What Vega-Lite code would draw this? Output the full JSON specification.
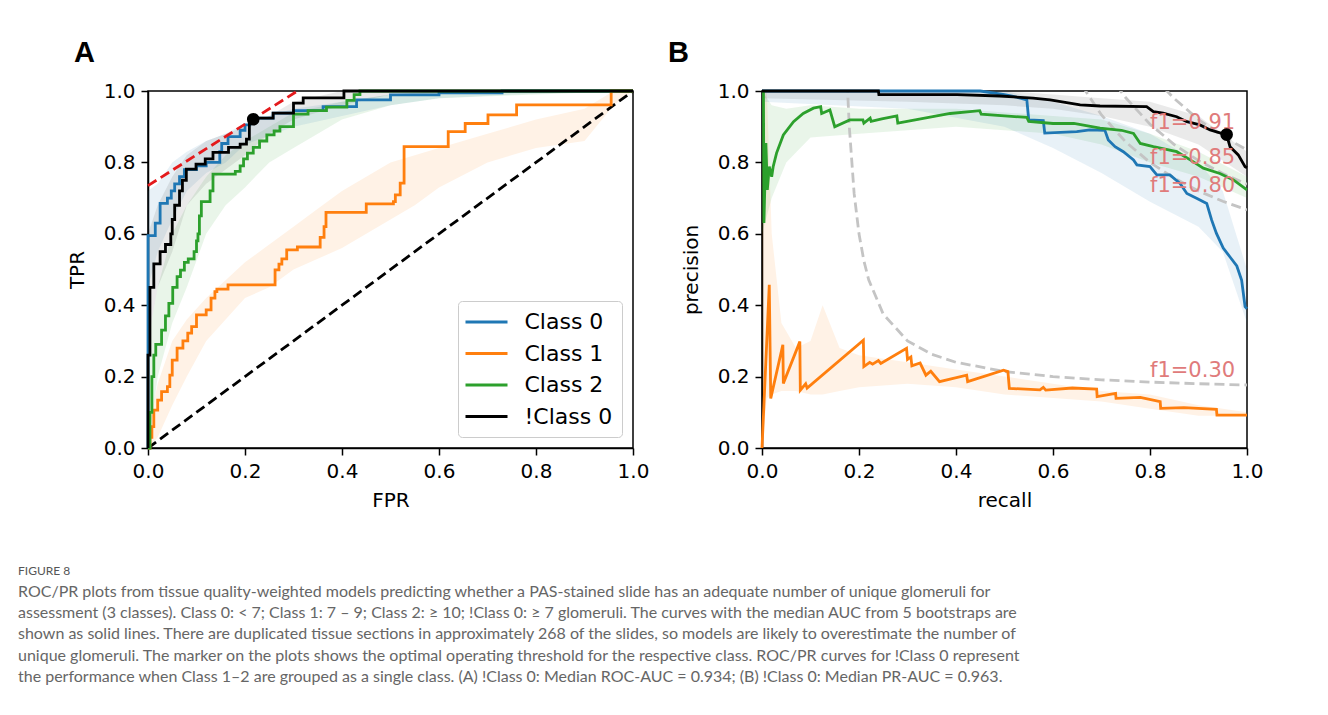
{
  "$schema": "https://vega.github.io/schema/vega-lite/v6.json",
  "background": "white",
  "padding": {"left": 18, "top": 38, "right": 60, "bottom": 20},
  "title": {
    "text": "FIGURE 8",
    "subtitle": [
      "ROC/PR plots from tissue quality-weighted models predicting whether a PAS-stained slide has an adequate number of unique glomeruli for",
      "assessment (3 classes). Class 0: < 7; Class 1: 7 – 9; Class 2: ≥ 10; !Class 0: ≥ 7 glomeruli. The curves with the median AUC from 5 bootstraps are",
      "shown as solid lines. There are duplicated tissue sections in approximately 268 of the slides, so models are likely to overestimate the number of",
      "unique glomeruli. The marker on the plots shows the optimal operating threshold for the respective class. ROC/PR curves for !Class 0 represent",
      "the performance when Class 1–2 are grouped as a single class. (A) !Class 0: Median ROC-AUC = 0.934; (B) !Class 0: Median PR-AUC = 0.963."
    ],
    "orient": "bottom",
    "anchor": "start",
    "frame": "group",
    "dx": -130,
    "offset": 55,
    "font": "Lato",
    "fontSize": 12,
    "fontWeight": "normal",
    "color": "#555555",
    "subtitleFont": "Lato",
    "subtitleFontSize": 16,
    "subtitleColor": "#666666",
    "subtitleLineHeight": 21.3,
    "subtitlePadding": 6
  },
  "datasets": {
    "rocLines": [
      {"cls": "Class 0", "fpr": 0, "tpr": 0},
      {"cls": "Class 0", "fpr": 0, "tpr": 0.595},
      {"cls": "Class 0", "fpr": 0.015, "tpr": 0.63},
      {"cls": "Class 0", "fpr": 0.025, "tpr": 0.685},
      {"cls": "Class 0", "fpr": 0.04, "tpr": 0.7},
      {"cls": "Class 0", "fpr": 0.048, "tpr": 0.72},
      {"cls": "Class 0", "fpr": 0.055, "tpr": 0.74},
      {"cls": "Class 0", "fpr": 0.065, "tpr": 0.76},
      {"cls": "Class 0", "fpr": 0.075, "tpr": 0.78},
      {"cls": "Class 0", "fpr": 0.1, "tpr": 0.79},
      {"cls": "Class 0", "fpr": 0.12, "tpr": 0.8},
      {"cls": "Class 0", "fpr": 0.148, "tpr": 0.83},
      {"cls": "Class 0", "fpr": 0.152, "tpr": 0.853},
      {"cls": "Class 0", "fpr": 0.165, "tpr": 0.872},
      {"cls": "Class 0", "fpr": 0.19, "tpr": 0.89},
      {"cls": "Class 0", "fpr": 0.2, "tpr": 0.905},
      {"cls": "Class 0", "fpr": 0.21, "tpr": 0.924},
      {"cls": "Class 0", "fpr": 0.258, "tpr": 0.938},
      {"cls": "Class 0", "fpr": 0.3, "tpr": 0.945},
      {"cls": "Class 0", "fpr": 0.361, "tpr": 0.956},
      {"cls": "Class 0", "fpr": 0.43, "tpr": 0.975},
      {"cls": "Class 0", "fpr": 0.5, "tpr": 0.989},
      {"cls": "Class 0", "fpr": 0.6, "tpr": 0.995},
      {"cls": "Class 0", "fpr": 0.73, "tpr": 1.0},
      {"cls": "Class 0", "fpr": 1.0, "tpr": 1.0},
      {"cls": "Class 1", "fpr": 0, "tpr": 0},
      {"cls": "Class 1", "fpr": 0.004, "tpr": 0.03},
      {"cls": "Class 1", "fpr": 0.008, "tpr": 0.06},
      {"cls": "Class 1", "fpr": 0.012, "tpr": 0.106},
      {"cls": "Class 1", "fpr": 0.02, "tpr": 0.134},
      {"cls": "Class 1", "fpr": 0.028, "tpr": 0.158},
      {"cls": "Class 1", "fpr": 0.04, "tpr": 0.172},
      {"cls": "Class 1", "fpr": 0.045, "tpr": 0.204},
      {"cls": "Class 1", "fpr": 0.05, "tpr": 0.246},
      {"cls": "Class 1", "fpr": 0.06, "tpr": 0.28},
      {"cls": "Class 1", "fpr": 0.072, "tpr": 0.3},
      {"cls": "Class 1", "fpr": 0.082, "tpr": 0.322},
      {"cls": "Class 1", "fpr": 0.09, "tpr": 0.34},
      {"cls": "Class 1", "fpr": 0.1, "tpr": 0.373},
      {"cls": "Class 1", "fpr": 0.12, "tpr": 0.387},
      {"cls": "Class 1", "fpr": 0.13, "tpr": 0.42},
      {"cls": "Class 1", "fpr": 0.138, "tpr": 0.438},
      {"cls": "Class 1", "fpr": 0.142, "tpr": 0.445},
      {"cls": "Class 1", "fpr": 0.165, "tpr": 0.457},
      {"cls": "Class 1", "fpr": 0.262, "tpr": 0.499},
      {"cls": "Class 1", "fpr": 0.27, "tpr": 0.515},
      {"cls": "Class 1", "fpr": 0.276, "tpr": 0.53},
      {"cls": "Class 1", "fpr": 0.286, "tpr": 0.555},
      {"cls": "Class 1", "fpr": 0.308, "tpr": 0.563},
      {"cls": "Class 1", "fpr": 0.355, "tpr": 0.59},
      {"cls": "Class 1", "fpr": 0.363, "tpr": 0.62},
      {"cls": "Class 1", "fpr": 0.367, "tpr": 0.66},
      {"cls": "Class 1", "fpr": 0.45, "tpr": 0.684},
      {"cls": "Class 1", "fpr": 0.506, "tpr": 0.69},
      {"cls": "Class 1", "fpr": 0.51, "tpr": 0.709},
      {"cls": "Class 1", "fpr": 0.52, "tpr": 0.742},
      {"cls": "Class 1", "fpr": 0.528, "tpr": 0.844},
      {"cls": "Class 1", "fpr": 0.619, "tpr": 0.886},
      {"cls": "Class 1", "fpr": 0.654, "tpr": 0.909},
      {"cls": "Class 1", "fpr": 0.701, "tpr": 0.933},
      {"cls": "Class 1", "fpr": 0.76, "tpr": 0.961},
      {"cls": "Class 1", "fpr": 0.955, "tpr": 1.0},
      {"cls": "Class 1", "fpr": 1.0, "tpr": 1.0},
      {"cls": "Class 2", "fpr": 0, "tpr": 0},
      {"cls": "Class 2", "fpr": 0.004, "tpr": 0.1},
      {"cls": "Class 2", "fpr": 0.008, "tpr": 0.2},
      {"cls": "Class 2", "fpr": 0.012, "tpr": 0.26},
      {"cls": "Class 2", "fpr": 0.016, "tpr": 0.29},
      {"cls": "Class 2", "fpr": 0.028, "tpr": 0.33},
      {"cls": "Class 2", "fpr": 0.036, "tpr": 0.37},
      {"cls": "Class 2", "fpr": 0.043, "tpr": 0.405},
      {"cls": "Class 2", "fpr": 0.051, "tpr": 0.45},
      {"cls": "Class 2", "fpr": 0.06, "tpr": 0.48},
      {"cls": "Class 2", "fpr": 0.067, "tpr": 0.498},
      {"cls": "Class 2", "fpr": 0.075, "tpr": 0.52},
      {"cls": "Class 2", "fpr": 0.083, "tpr": 0.53},
      {"cls": "Class 2", "fpr": 0.095, "tpr": 0.55},
      {"cls": "Class 2", "fpr": 0.1, "tpr": 0.58},
      {"cls": "Class 2", "fpr": 0.103, "tpr": 0.6},
      {"cls": "Class 2", "fpr": 0.106, "tpr": 0.65},
      {"cls": "Class 2", "fpr": 0.11, "tpr": 0.69},
      {"cls": "Class 2", "fpr": 0.128, "tpr": 0.72},
      {"cls": "Class 2", "fpr": 0.134, "tpr": 0.767},
      {"cls": "Class 2", "fpr": 0.18, "tpr": 0.775},
      {"cls": "Class 2", "fpr": 0.19, "tpr": 0.79},
      {"cls": "Class 2", "fpr": 0.197, "tpr": 0.81},
      {"cls": "Class 2", "fpr": 0.205, "tpr": 0.826},
      {"cls": "Class 2", "fpr": 0.217, "tpr": 0.842},
      {"cls": "Class 2", "fpr": 0.23, "tpr": 0.86},
      {"cls": "Class 2", "fpr": 0.245, "tpr": 0.877},
      {"cls": "Class 2", "fpr": 0.26, "tpr": 0.888},
      {"cls": "Class 2", "fpr": 0.272, "tpr": 0.9},
      {"cls": "Class 2", "fpr": 0.3, "tpr": 0.935},
      {"cls": "Class 2", "fpr": 0.33, "tpr": 0.945},
      {"cls": "Class 2", "fpr": 0.368, "tpr": 0.955},
      {"cls": "Class 2", "fpr": 0.41, "tpr": 0.974},
      {"cls": "Class 2", "fpr": 0.425, "tpr": 0.99},
      {"cls": "Class 2", "fpr": 0.437, "tpr": 1.0},
      {"cls": "Class 2", "fpr": 1.0, "tpr": 1.0},
      {"cls": "!Class 0", "fpr": 0, "tpr": 0},
      {"cls": "!Class 0", "fpr": 0, "tpr": 0.26},
      {"cls": "!Class 0", "fpr": 0.004, "tpr": 0.45},
      {"cls": "!Class 0", "fpr": 0.012, "tpr": 0.516},
      {"cls": "!Class 0", "fpr": 0.025, "tpr": 0.55},
      {"cls": "!Class 0", "fpr": 0.036, "tpr": 0.57},
      {"cls": "!Class 0", "fpr": 0.047, "tpr": 0.6},
      {"cls": "!Class 0", "fpr": 0.05, "tpr": 0.64},
      {"cls": "!Class 0", "fpr": 0.055, "tpr": 0.68},
      {"cls": "!Class 0", "fpr": 0.065, "tpr": 0.72},
      {"cls": "!Class 0", "fpr": 0.071, "tpr": 0.75},
      {"cls": "!Class 0", "fpr": 0.079, "tpr": 0.781},
      {"cls": "!Class 0", "fpr": 0.099, "tpr": 0.795},
      {"cls": "!Class 0", "fpr": 0.118, "tpr": 0.81},
      {"cls": "!Class 0", "fpr": 0.134, "tpr": 0.828},
      {"cls": "!Class 0", "fpr": 0.166, "tpr": 0.842},
      {"cls": "!Class 0", "fpr": 0.19, "tpr": 0.851},
      {"cls": "!Class 0", "fpr": 0.203, "tpr": 0.865},
      {"cls": "!Class 0", "fpr": 0.209, "tpr": 0.924},
      {"cls": "!Class 0", "fpr": 0.258, "tpr": 0.938},
      {"cls": "!Class 0", "fpr": 0.3, "tpr": 0.966},
      {"cls": "!Class 0", "fpr": 0.32, "tpr": 0.981},
      {"cls": "!Class 0", "fpr": 0.404, "tpr": 1.0},
      {"cls": "!Class 0", "fpr": 1.0, "tpr": 1.0}
    ],
    "rocBands": [
      {"cls": "Class 0", "fpr": 0, "lo": 0.45, "hi": 0.72},
      {"cls": "Class 0", "fpr": 0.02, "lo": 0.55, "hi": 0.74},
      {"cls": "Class 0", "fpr": 0.05, "lo": 0.64, "hi": 0.8},
      {"cls": "Class 0", "fpr": 0.08, "lo": 0.72, "hi": 0.83},
      {"cls": "Class 0", "fpr": 0.12, "lo": 0.77, "hi": 0.86},
      {"cls": "Class 0", "fpr": 0.16, "lo": 0.8, "hi": 0.88},
      {"cls": "Class 0", "fpr": 0.2, "lo": 0.85, "hi": 0.91},
      {"cls": "Class 0", "fpr": 0.3, "lo": 0.9, "hi": 0.95},
      {"cls": "Class 0", "fpr": 0.4, "lo": 0.93, "hi": 0.97},
      {"cls": "Class 0", "fpr": 0.5, "lo": 0.96, "hi": 0.99},
      {"cls": "Class 0", "fpr": 0.6, "lo": 0.98, "hi": 1.0},
      {"cls": "Class 0", "fpr": 0.75, "lo": 0.99, "hi": 1.0},
      {"cls": "Class 0", "fpr": 1.0, "lo": 1.0, "hi": 1.0},
      {"cls": "Class 1", "fpr": 0, "lo": 0, "hi": 0.05},
      {"cls": "Class 1", "fpr": 0.02, "lo": 0.03, "hi": 0.18},
      {"cls": "Class 1", "fpr": 0.05, "lo": 0.12, "hi": 0.3},
      {"cls": "Class 1", "fpr": 0.08, "lo": 0.2, "hi": 0.36},
      {"cls": "Class 1", "fpr": 0.12, "lo": 0.3, "hi": 0.42},
      {"cls": "Class 1", "fpr": 0.16, "lo": 0.36, "hi": 0.47},
      {"cls": "Class 1", "fpr": 0.2, "lo": 0.42, "hi": 0.52},
      {"cls": "Class 1", "fpr": 0.25, "lo": 0.45, "hi": 0.57},
      {"cls": "Class 1", "fpr": 0.3, "lo": 0.5, "hi": 0.62},
      {"cls": "Class 1", "fpr": 0.35, "lo": 0.53, "hi": 0.67},
      {"cls": "Class 1", "fpr": 0.4, "lo": 0.56, "hi": 0.72},
      {"cls": "Class 1", "fpr": 0.45, "lo": 0.6, "hi": 0.76},
      {"cls": "Class 1", "fpr": 0.5, "lo": 0.64, "hi": 0.8},
      {"cls": "Class 1", "fpr": 0.55, "lo": 0.68, "hi": 0.82},
      {"cls": "Class 1", "fpr": 0.6, "lo": 0.73, "hi": 0.84},
      {"cls": "Class 1", "fpr": 0.7, "lo": 0.8, "hi": 0.88},
      {"cls": "Class 1", "fpr": 0.8, "lo": 0.84, "hi": 0.92},
      {"cls": "Class 1", "fpr": 0.9, "lo": 0.86, "hi": 0.95},
      {"cls": "Class 1", "fpr": 0.96, "lo": 0.96, "hi": 1.0},
      {"cls": "Class 1", "fpr": 1.0, "lo": 1.0, "hi": 1.0},
      {"cls": "Class 2", "fpr": 0, "lo": 0, "hi": 0.3},
      {"cls": "Class 2", "fpr": 0.02, "lo": 0.2, "hi": 0.45},
      {"cls": "Class 2", "fpr": 0.05, "lo": 0.35, "hi": 0.6},
      {"cls": "Class 2", "fpr": 0.08, "lo": 0.45, "hi": 0.68},
      {"cls": "Class 2", "fpr": 0.12, "lo": 0.6, "hi": 0.76},
      {"cls": "Class 2", "fpr": 0.16, "lo": 0.68, "hi": 0.82},
      {"cls": "Class 2", "fpr": 0.2, "lo": 0.73, "hi": 0.86},
      {"cls": "Class 2", "fpr": 0.25, "lo": 0.8, "hi": 0.9},
      {"cls": "Class 2", "fpr": 0.3, "lo": 0.84, "hi": 0.94},
      {"cls": "Class 2", "fpr": 0.4, "lo": 0.92, "hi": 0.97},
      {"cls": "Class 2", "fpr": 0.5, "lo": 0.96, "hi": 0.99},
      {"cls": "Class 2", "fpr": 0.6, "lo": 0.98, "hi": 1.0},
      {"cls": "Class 2", "fpr": 1.0, "lo": 1.0, "hi": 1.0},
      {"cls": "!Class 0", "fpr": 0, "lo": 0.3, "hi": 0.6},
      {"cls": "!Class 0", "fpr": 0.02, "lo": 0.45, "hi": 0.68},
      {"cls": "!Class 0", "fpr": 0.05, "lo": 0.55, "hi": 0.76},
      {"cls": "!Class 0", "fpr": 0.08, "lo": 0.68, "hi": 0.82},
      {"cls": "!Class 0", "fpr": 0.12, "lo": 0.74, "hi": 0.86},
      {"cls": "!Class 0", "fpr": 0.2, "lo": 0.82, "hi": 0.9},
      {"cls": "!Class 0", "fpr": 0.25, "lo": 0.88, "hi": 0.93},
      {"cls": "!Class 0", "fpr": 0.3, "lo": 0.92, "hi": 0.97},
      {"cls": "!Class 0", "fpr": 0.4, "lo": 0.96, "hi": 1.0},
      {"cls": "!Class 0", "fpr": 0.5, "lo": 0.99, "hi": 1.0},
      {"cls": "!Class 0", "fpr": 1.0, "lo": 1.0, "hi": 1.0}
    ],
    "rocDiag": [
      {"fpr": 0, "tpr": 0},
      {"fpr": 1, "tpr": 1}
    ],
    "rocTangent": [
      {"fpr": 0, "tpr": 0.735},
      {"fpr": 0.308, "tpr": 1.0}
    ],
    "rocOptimal": [
      {"fpr": 0.217, "tpr": 0.921}
    ],
    "prLines": [
      {"cls": "Class 0", "recall": 0, "precision": 1.0},
      {"cls": "Class 0", "recall": 0.45, "precision": 1.0},
      {"cls": "Class 0", "recall": 0.5, "precision": 0.99},
      {"cls": "Class 0", "recall": 0.518, "precision": 0.985},
      {"cls": "Class 0", "recall": 0.546, "precision": 0.975},
      {"cls": "Class 0", "recall": 0.55, "precision": 0.919},
      {"cls": "Class 0", "recall": 0.58, "precision": 0.917},
      {"cls": "Class 0", "recall": 0.583, "precision": 0.882},
      {"cls": "Class 0", "recall": 0.649, "precision": 0.886},
      {"cls": "Class 0", "recall": 0.676, "precision": 0.891},
      {"cls": "Class 0", "recall": 0.707, "precision": 0.89},
      {"cls": "Class 0", "recall": 0.714, "precision": 0.863},
      {"cls": "Class 0", "recall": 0.728, "precision": 0.844},
      {"cls": "Class 0", "recall": 0.745, "precision": 0.83},
      {"cls": "Class 0", "recall": 0.766, "precision": 0.807},
      {"cls": "Class 0", "recall": 0.773, "precision": 0.793},
      {"cls": "Class 0", "recall": 0.8, "precision": 0.788},
      {"cls": "Class 0", "recall": 0.814, "precision": 0.765},
      {"cls": "Class 0", "recall": 0.841, "precision": 0.765},
      {"cls": "Class 0", "recall": 0.862, "precision": 0.741},
      {"cls": "Class 0", "recall": 0.876, "precision": 0.713},
      {"cls": "Class 0", "recall": 0.897, "precision": 0.699},
      {"cls": "Class 0", "recall": 0.917, "precision": 0.685},
      {"cls": "Class 0", "recall": 0.927, "precision": 0.639},
      {"cls": "Class 0", "recall": 0.937, "precision": 0.601},
      {"cls": "Class 0", "recall": 0.951, "precision": 0.56},
      {"cls": "Class 0", "recall": 0.965, "precision": 0.535},
      {"cls": "Class 0", "recall": 0.979, "precision": 0.51},
      {"cls": "Class 0", "recall": 0.989, "precision": 0.47},
      {"cls": "Class 0", "recall": 0.996, "precision": 0.396},
      {"cls": "Class 0", "recall": 1.0, "precision": 0.39},
      {"cls": "Class 1", "recall": 0, "precision": 0},
      {"cls": "Class 1", "recall": 0.015, "precision": 0.457},
      {"cls": "Class 1", "recall": 0.018, "precision": 0.139},
      {"cls": "Class 1", "recall": 0.043, "precision": 0.289},
      {"cls": "Class 1", "recall": 0.044, "precision": 0.181},
      {"cls": "Class 1", "recall": 0.078, "precision": 0.298},
      {"cls": "Class 1", "recall": 0.079, "precision": 0.162},
      {"cls": "Class 1", "recall": 0.09, "precision": 0.18},
      {"cls": "Class 1", "recall": 0.093, "precision": 0.168},
      {"cls": "Class 1", "recall": 0.209, "precision": 0.302},
      {"cls": "Class 1", "recall": 0.21, "precision": 0.228},
      {"cls": "Class 1", "recall": 0.222, "precision": 0.24},
      {"cls": "Class 1", "recall": 0.228, "precision": 0.235},
      {"cls": "Class 1", "recall": 0.24, "precision": 0.245},
      {"cls": "Class 1", "recall": 0.245, "precision": 0.237},
      {"cls": "Class 1", "recall": 0.298, "precision": 0.279},
      {"cls": "Class 1", "recall": 0.3, "precision": 0.248},
      {"cls": "Class 1", "recall": 0.307, "precision": 0.255},
      {"cls": "Class 1", "recall": 0.309, "precision": 0.23},
      {"cls": "Class 1", "recall": 0.326, "precision": 0.238},
      {"cls": "Class 1", "recall": 0.338, "precision": 0.204},
      {"cls": "Class 1", "recall": 0.348, "precision": 0.215},
      {"cls": "Class 1", "recall": 0.366, "precision": 0.186},
      {"cls": "Class 1", "recall": 0.422, "precision": 0.204},
      {"cls": "Class 1", "recall": 0.424, "precision": 0.186},
      {"cls": "Class 1", "recall": 0.498, "precision": 0.218},
      {"cls": "Class 1", "recall": 0.507, "precision": 0.214},
      {"cls": "Class 1", "recall": 0.51, "precision": 0.167},
      {"cls": "Class 1", "recall": 0.573, "precision": 0.163},
      {"cls": "Class 1", "recall": 0.58, "precision": 0.17},
      {"cls": "Class 1", "recall": 0.585, "precision": 0.162},
      {"cls": "Class 1", "recall": 0.64, "precision": 0.168},
      {"cls": "Class 1", "recall": 0.69, "precision": 0.165},
      {"cls": "Class 1", "recall": 0.691, "precision": 0.144},
      {"cls": "Class 1", "recall": 0.729, "precision": 0.153},
      {"cls": "Class 1", "recall": 0.73, "precision": 0.139},
      {"cls": "Class 1", "recall": 0.78, "precision": 0.142},
      {"cls": "Class 1", "recall": 0.821, "precision": 0.13},
      {"cls": "Class 1", "recall": 0.822, "precision": 0.111},
      {"cls": "Class 1", "recall": 0.87, "precision": 0.113},
      {"cls": "Class 1", "recall": 0.937, "precision": 0.108},
      {"cls": "Class 1", "recall": 0.938, "precision": 0.092},
      {"cls": "Class 1", "recall": 1.0, "precision": 0.092},
      {"cls": "Class 2", "recall": 0.003, "precision": 1.0},
      {"cls": "Class 2", "recall": 0.004, "precision": 0.63},
      {"cls": "Class 2", "recall": 0.008, "precision": 0.854},
      {"cls": "Class 2", "recall": 0.011, "precision": 0.723},
      {"cls": "Class 2", "recall": 0.015, "precision": 0.788},
      {"cls": "Class 2", "recall": 0.02, "precision": 0.76},
      {"cls": "Class 2", "recall": 0.023, "precision": 0.788},
      {"cls": "Class 2", "recall": 0.03, "precision": 0.826},
      {"cls": "Class 2", "recall": 0.044, "precision": 0.877},
      {"cls": "Class 2", "recall": 0.065, "precision": 0.914},
      {"cls": "Class 2", "recall": 0.085, "precision": 0.937},
      {"cls": "Class 2", "recall": 0.106, "precision": 0.952},
      {"cls": "Class 2", "recall": 0.121, "precision": 0.956},
      {"cls": "Class 2", "recall": 0.123, "precision": 0.937},
      {"cls": "Class 2", "recall": 0.14, "precision": 0.947},
      {"cls": "Class 2", "recall": 0.15, "precision": 0.9},
      {"cls": "Class 2", "recall": 0.181, "precision": 0.919},
      {"cls": "Class 2", "recall": 0.208, "precision": 0.919},
      {"cls": "Class 2", "recall": 0.21, "precision": 0.91},
      {"cls": "Class 2", "recall": 0.223, "precision": 0.924},
      {"cls": "Class 2", "recall": 0.225, "precision": 0.915},
      {"cls": "Class 2", "recall": 0.247, "precision": 0.922},
      {"cls": "Class 2", "recall": 0.278, "precision": 0.93},
      {"cls": "Class 2", "recall": 0.28, "precision": 0.91},
      {"cls": "Class 2", "recall": 0.388, "precision": 0.937},
      {"cls": "Class 2", "recall": 0.449, "precision": 0.945},
      {"cls": "Class 2", "recall": 0.452, "precision": 0.935},
      {"cls": "Class 2", "recall": 0.546, "precision": 0.926},
      {"cls": "Class 2", "recall": 0.55, "precision": 0.915},
      {"cls": "Class 2", "recall": 0.6, "precision": 0.909},
      {"cls": "Class 2", "recall": 0.643, "precision": 0.909},
      {"cls": "Class 2", "recall": 0.697, "precision": 0.896},
      {"cls": "Class 2", "recall": 0.741, "precision": 0.89},
      {"cls": "Class 2", "recall": 0.766, "precision": 0.881},
      {"cls": "Class 2", "recall": 0.78, "precision": 0.853},
      {"cls": "Class 2", "recall": 0.807, "precision": 0.844},
      {"cls": "Class 2", "recall": 0.855, "precision": 0.83},
      {"cls": "Class 2", "recall": 0.883, "precision": 0.807},
      {"cls": "Class 2", "recall": 0.91, "precision": 0.784},
      {"cls": "Class 2", "recall": 0.944, "precision": 0.769},
      {"cls": "Class 2", "recall": 0.972, "precision": 0.751},
      {"cls": "Class 2", "recall": 1.0, "precision": 0.723},
      {"cls": "!Class 0", "recall": 0, "precision": 1.0},
      {"cls": "!Class 0", "recall": 0.24, "precision": 1.0},
      {"cls": "!Class 0", "recall": 0.241, "precision": 0.99},
      {"cls": "!Class 0", "recall": 0.402, "precision": 0.99},
      {"cls": "!Class 0", "recall": 0.49, "precision": 0.986},
      {"cls": "!Class 0", "recall": 0.559, "precision": 0.98},
      {"cls": "!Class 0", "recall": 0.594, "precision": 0.975},
      {"cls": "!Class 0", "recall": 0.656, "precision": 0.961},
      {"cls": "!Class 0", "recall": 0.697, "precision": 0.958},
      {"cls": "!Class 0", "recall": 0.793, "precision": 0.956},
      {"cls": "!Class 0", "recall": 0.807, "precision": 0.942},
      {"cls": "!Class 0", "recall": 0.827, "precision": 0.938},
      {"cls": "!Class 0", "recall": 0.855, "precision": 0.928},
      {"cls": "!Class 0", "recall": 0.876, "precision": 0.914},
      {"cls": "!Class 0", "recall": 0.903, "precision": 0.905},
      {"cls": "!Class 0", "recall": 0.924, "precision": 0.891},
      {"cls": "!Class 0", "recall": 0.958, "precision": 0.877},
      {"cls": "!Class 0", "recall": 0.965, "precision": 0.844},
      {"cls": "!Class 0", "recall": 0.982, "precision": 0.821},
      {"cls": "!Class 0", "recall": 0.996, "precision": 0.788},
      {"cls": "!Class 0", "recall": 1.0, "precision": 0.785}
    ],
    "prBands": [
      {"cls": "Class 0", "recall": 0, "lo": 0.97, "hi": 1.0},
      {"cls": "Class 0", "recall": 0.3, "lo": 0.95, "hi": 1.0},
      {"cls": "Class 0", "recall": 0.5, "lo": 0.9, "hi": 1.0},
      {"cls": "Class 0", "recall": 0.6, "lo": 0.84, "hi": 0.97},
      {"cls": "Class 0", "recall": 0.7, "lo": 0.77, "hi": 0.93},
      {"cls": "Class 0", "recall": 0.8, "lo": 0.69, "hi": 0.88},
      {"cls": "Class 0", "recall": 0.9, "lo": 0.62, "hi": 0.8},
      {"cls": "Class 0", "recall": 0.95, "lo": 0.55, "hi": 0.72},
      {"cls": "Class 0", "recall": 1.0, "lo": 0.35, "hi": 0.5},
      {"cls": "Class 1", "recall": 0, "lo": 0, "hi": 1.0},
      {"cls": "Class 1", "recall": 0.01, "lo": 0.14, "hi": 1.0},
      {"cls": "Class 1", "recall": 0.02, "lo": 0.15, "hi": 0.6},
      {"cls": "Class 1", "recall": 0.04, "lo": 0.16, "hi": 0.35},
      {"cls": "Class 1", "recall": 0.07, "lo": 0.16, "hi": 0.28},
      {"cls": "Class 1", "recall": 0.1, "lo": 0.15, "hi": 0.3},
      {"cls": "Class 1", "recall": 0.125, "lo": 0.15, "hi": 0.4},
      {"cls": "Class 1", "recall": 0.16, "lo": 0.16, "hi": 0.28},
      {"cls": "Class 1", "recall": 0.2, "lo": 0.17, "hi": 0.26},
      {"cls": "Class 1", "recall": 0.3, "lo": 0.18, "hi": 0.24},
      {"cls": "Class 1", "recall": 0.4, "lo": 0.17, "hi": 0.22},
      {"cls": "Class 1", "recall": 0.5, "lo": 0.15, "hi": 0.2},
      {"cls": "Class 1", "recall": 0.6, "lo": 0.14, "hi": 0.18},
      {"cls": "Class 1", "recall": 0.7, "lo": 0.13, "hi": 0.16},
      {"cls": "Class 1", "recall": 0.8, "lo": 0.11, "hi": 0.15},
      {"cls": "Class 1", "recall": 0.9, "lo": 0.09, "hi": 0.12},
      {"cls": "Class 1", "recall": 1.0, "lo": 0.09, "hi": 0.1},
      {"cls": "Class 2", "recall": 0, "lo": 0.6, "hi": 1.0},
      {"cls": "Class 2", "recall": 0.02, "lo": 0.7, "hi": 0.96},
      {"cls": "Class 2", "recall": 0.05, "lo": 0.8, "hi": 0.95},
      {"cls": "Class 2", "recall": 0.1, "lo": 0.87, "hi": 0.96},
      {"cls": "Class 2", "recall": 0.2, "lo": 0.88, "hi": 0.95},
      {"cls": "Class 2", "recall": 0.4, "lo": 0.9, "hi": 0.95},
      {"cls": "Class 2", "recall": 0.6, "lo": 0.88, "hi": 0.93},
      {"cls": "Class 2", "recall": 0.7, "lo": 0.85, "hi": 0.92},
      {"cls": "Class 2", "recall": 0.8, "lo": 0.8, "hi": 0.88},
      {"cls": "Class 2", "recall": 0.9, "lo": 0.76, "hi": 0.83},
      {"cls": "Class 2", "recall": 1.0, "lo": 0.7, "hi": 0.76},
      {"cls": "!Class 0", "recall": 0, "lo": 0.98, "hi": 1.0},
      {"cls": "!Class 0", "recall": 0.3, "lo": 0.97, "hi": 1.0},
      {"cls": "!Class 0", "recall": 0.5, "lo": 0.96, "hi": 1.0},
      {"cls": "!Class 0", "recall": 0.6, "lo": 0.95, "hi": 0.99},
      {"cls": "!Class 0", "recall": 0.7, "lo": 0.93, "hi": 0.98},
      {"cls": "!Class 0", "recall": 0.8, "lo": 0.9, "hi": 0.97},
      {"cls": "!Class 0", "recall": 0.9, "lo": 0.85, "hi": 0.93},
      {"cls": "!Class 0", "recall": 1.0, "lo": 0.76, "hi": 0.83}
    ],
    "isoF1": [
      {"f": "0.30", "recall": 0.17, "precision": 1.275},
      {"f": "0.30", "recall": 0.176, "precision": 1.015},
      {"f": "0.30", "recall": 0.18, "precision": 0.9},
      {"f": "0.30", "recall": 0.19, "precision": 0.7125},
      {"f": "0.30", "recall": 0.2, "precision": 0.6},
      {"f": "0.30", "recall": 0.21, "precision": 0.525},
      {"f": "0.30", "recall": 0.22, "precision": 0.471},
      {"f": "0.30", "recall": 0.25, "precision": 0.375},
      {"f": "0.30", "recall": 0.3, "precision": 0.3},
      {"f": "0.30", "recall": 0.35, "precision": 0.2625},
      {"f": "0.30", "recall": 0.4, "precision": 0.24},
      {"f": "0.30", "recall": 0.5, "precision": 0.2143},
      {"f": "0.30", "recall": 0.6, "precision": 0.2},
      {"f": "0.30", "recall": 0.7, "precision": 0.1909},
      {"f": "0.30", "recall": 0.8, "precision": 0.1846},
      {"f": "0.30", "recall": 0.9, "precision": 0.18},
      {"f": "0.30", "recall": 1.0, "precision": 0.1765},
      {"f": "0.80", "recall": 0.66, "precision": 1.015},
      {"f": "0.80", "recall": 0.7, "precision": 0.933},
      {"f": "0.80", "recall": 0.75, "precision": 0.857},
      {"f": "0.80", "recall": 0.8, "precision": 0.8},
      {"f": "0.80", "recall": 0.85, "precision": 0.756},
      {"f": "0.80", "recall": 0.9, "precision": 0.72},
      {"f": "0.80", "recall": 0.95, "precision": 0.691},
      {"f": "0.80", "recall": 1.0, "precision": 0.667},
      {"f": "0.85", "recall": 0.73, "precision": 1.017},
      {"f": "0.85", "recall": 0.75, "precision": 0.981},
      {"f": "0.85", "recall": 0.8, "precision": 0.907},
      {"f": "0.85", "recall": 0.85, "precision": 0.85},
      {"f": "0.85", "recall": 0.9, "precision": 0.805},
      {"f": "0.85", "recall": 0.95, "precision": 0.769},
      {"f": "0.85", "recall": 1.0, "precision": 0.739},
      {"f": "0.91", "recall": 0.83, "precision": 1.007},
      {"f": "0.91", "recall": 0.85, "precision": 0.979},
      {"f": "0.91", "recall": 0.9, "precision": 0.92},
      {"f": "0.91", "recall": 0.95, "precision": 0.873},
      {"f": "0.91", "recall": 1.0, "precision": 0.835}
    ],
    "isoLabels": [
      {"label": "f1=0.91", "recall": 0.8, "precision": 0.893},
      {"label": "f1=0.85", "recall": 0.8, "precision": 0.795},
      {"label": "f1=0.80", "recall": 0.8, "precision": 0.716},
      {"label": "f1=0.30", "recall": 0.8, "precision": 0.2}
    ],
    "prOptimal": [
      {"recall": 0.958, "precision": 0.878}
    ]
  },
  "hconcat": [
    {
      "width": 485,
      "height": 357,
      "title": {"text": "A", "anchor": "start", "frame": "group", "dx": -74, "offset": -10, "baseline": "alphabetic", "font": "Liberation Sans", "fontSize": 29, "fontWeight": "bold", "color": "black"},
      "encoding": {
        "x": {"field": "fpr", "type": "quantitative", "scale": {"domain": [0, 1], "nice": false}, "axis": {"title": "FPR", "values": [0, 0.2, 0.4, 0.6, 0.8, 1.0], "format": ".1f"}},
        "y": {"field": "tpr", "type": "quantitative", "scale": {"domain": [0, 1], "nice": false}, "axis": {"title": "TPR", "titlePadding": 16, "values": [0, 0.2, 0.4, 0.6, 0.8, 1.0], "format": ".1f"}}
      },
      "layer": [
        {
          "data": {"name": "rocBands"},
          "transform": [{"filter": "datum.cls === 'Class 1'"}],
          "mark": {"type": "area", "color": "#ff7f0e", "opacity": 0.1},
          "encoding": {"y": {"field": "lo", "type": "quantitative"}, "y2": {"field": "hi"}}
        },
        {
          "data": {"name": "rocBands"},
          "transform": [{"filter": "datum.cls === 'Class 2'"}],
          "mark": {"type": "area", "color": "#2ca02c", "opacity": 0.1},
          "encoding": {"y": {"field": "lo", "type": "quantitative"}, "y2": {"field": "hi"}}
        },
        {
          "data": {"name": "rocBands"},
          "transform": [{"filter": "datum.cls === 'Class 0'"}],
          "mark": {"type": "area", "color": "#1f77b4", "opacity": 0.1},
          "encoding": {"y": {"field": "lo", "type": "quantitative"}, "y2": {"field": "hi"}}
        },
        {
          "data": {"name": "rocBands"},
          "transform": [{"filter": "datum.cls === '!Class 0'"}],
          "mark": {"type": "area", "color": "#333333", "opacity": 0.1},
          "encoding": {"y": {"field": "lo", "type": "quantitative"}, "y2": {"field": "hi"}}
        },
        {
          "data": {"name": "rocDiag"},
          "mark": {"type": "line", "color": "black", "strokeWidth": 2.8, "strokeDash": [10, 5]},
          "encoding": {}
        },
        {
          "data": {"name": "rocLines"},
          "mark": {"type": "line", "interpolate": "step-after", "strokeWidth": 2.8},
          "encoding": {
            "color": {
              "field": "cls", "type": "nominal",
              "scale": {"domain": ["Class 0", "Class 1", "Class 2", "!Class 0"], "range": ["#1f77b4", "#ff7f0e", "#2ca02c", "#000000"]},
              "legend": {
                "title": null, "orient": "bottom-right", "offset": 11,
                "symbolType": "M-2,0L2,0", "symbolSize": 441, "symbolStrokeWidth": 3, "symbolOffset": 7.5,
                "labelFont": "DejaVu Sans", "labelFontSize": 22, "labelColor": "black",
                "labelOffset": 26, "rowPadding": 8.5, "padding": 9,
                "strokeColor": "#cccccc", "fillColor": "#ffffff", "cornerRadius": 4
              }
            },
            "order": {"value": null}
          }
        },
        {
          "data": {"name": "rocTangent"},
          "mark": {"type": "line", "color": "#e41a1c", "strokeWidth": 2.8, "strokeDash": [10, 5]},
          "encoding": {}
        },
        {
          "data": {"name": "rocOptimal"},
          "mark": {"type": "point", "filled": true, "color": "black", "size": 160, "opacity": 1},
          "encoding": {}
        }
      ]
    },
    {
      "width": 485,
      "height": 357,
      "title": {"text": "B", "anchor": "start", "frame": "group", "dx": -94, "offset": -10, "baseline": "alphabetic", "font": "Liberation Sans", "fontSize": 29, "fontWeight": "bold", "color": "black"},
      "encoding": {
        "x": {"field": "recall", "type": "quantitative", "scale": {"domain": [0, 1], "nice": false}, "axis": {"title": "recall", "values": [0, 0.2, 0.4, 0.6, 0.8, 1.0], "format": ".1f"}},
        "y": {"field": "precision", "type": "quantitative", "scale": {"domain": [0, 1], "nice": false}, "axis": {"title": "precision", "titlePadding": 16, "values": [0, 0.2, 0.4, 0.6, 0.8, 1.0], "format": ".1f"}}
      },
      "layer": [
        {
          "data": {"name": "prBands"},
          "transform": [{"filter": "datum.cls === 'Class 1'"}],
          "mark": {"type": "area", "color": "#ff7f0e", "opacity": 0.1},
          "encoding": {"y": {"field": "lo", "type": "quantitative"}, "y2": {"field": "hi"}}
        },
        {
          "data": {"name": "prBands"},
          "transform": [{"filter": "datum.cls === 'Class 2'"}],
          "mark": {"type": "area", "color": "#2ca02c", "opacity": 0.1},
          "encoding": {"y": {"field": "lo", "type": "quantitative"}, "y2": {"field": "hi"}}
        },
        {
          "data": {"name": "prBands"},
          "transform": [{"filter": "datum.cls === 'Class 0'"}],
          "mark": {"type": "area", "color": "#1f77b4", "opacity": 0.1},
          "encoding": {"y": {"field": "lo", "type": "quantitative"}, "y2": {"field": "hi"}}
        },
        {
          "data": {"name": "prBands"},
          "transform": [{"filter": "datum.cls === '!Class 0'"}],
          "mark": {"type": "area", "color": "#333333", "opacity": 0.1},
          "encoding": {"y": {"field": "lo", "type": "quantitative"}, "y2": {"field": "hi"}}
        },
        {
          "data": {"name": "isoF1"},
          "mark": {"type": "line", "color": "#c4c4c4", "strokeWidth": 2.8, "strokeDash": [10, 5], "clip": true},
          "encoding": {
            "detail": {"field": "f", "type": "nominal"},
            "order": {"value": null}
          }
        },
        {
          "data": {"name": "prLines"},
          "mark": {"type": "line", "strokeWidth": 2.8},
          "encoding": {
            "color": {
              "field": "cls", "type": "nominal",
              "scale": {"domain": ["Class 0", "Class 1", "Class 2", "!Class 0"], "range": ["#1f77b4", "#ff7f0e", "#2ca02c", "#000000"]},
              "legend": null
            },
            "order": {"value": null}
          }
        },
        {
          "data": {"name": "isoLabels"},
          "mark": {"type": "text", "align": "left", "baseline": "alphabetic", "font": "DejaVu Sans", "fontSize": 21, "color": "#e07b7b"},
          "encoding": {"text": {"field": "label"}}
        },
        {
          "data": {"name": "prOptimal"},
          "mark": {"type": "point", "filled": true, "color": "black", "size": 160, "opacity": 1},
          "encoding": {}
        }
      ]
    }
  ],
  "spacing": 129,
  "bounds": "flush",
  "resolve": {"scale": {"color": "independent"}, "legend": {"color": "independent"}},
  "config": {
    "view": {"stroke": "black", "strokeWidth": 1.5},
    "axis": {
      "labelFont": "DejaVu Sans", "labelFontSize": 20, "labelColor": "black",
      "titleFont": "DejaVu Sans", "titleFontSize": 20, "titleFontWeight": "normal", "titleColor": "black",
      "grid": false, "domainColor": "black", "domainWidth": 1.5,
      "tickColor": "black", "tickWidth": 1.5, "tickSize": 7, "labelPadding": 6,
      "labelFlush": false, "labelOverlap": false, "titlePadding": 9
    }
  }
}
